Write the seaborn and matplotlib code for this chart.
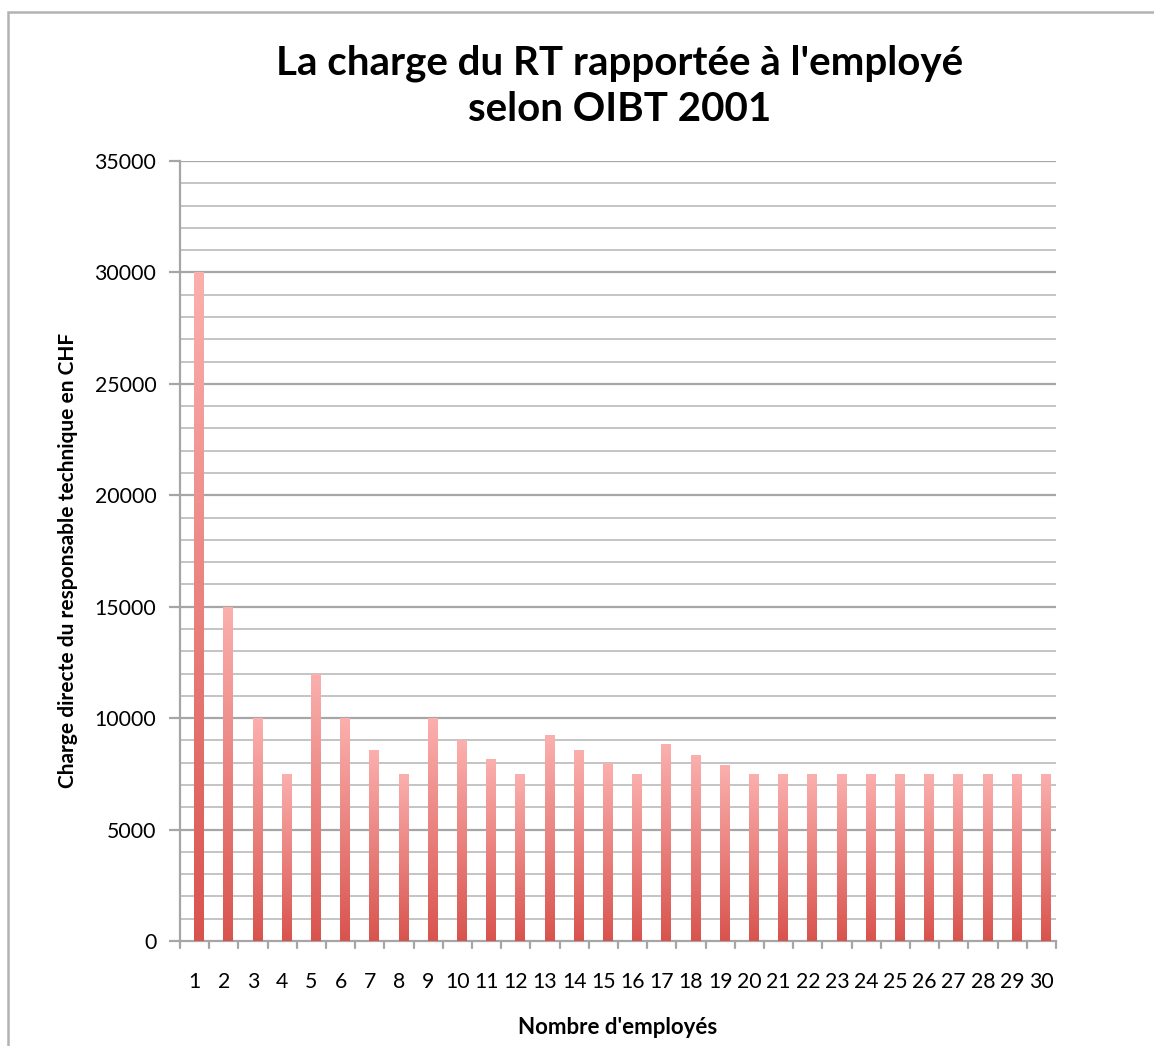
import numpy as np
import pandas as pd
import matplotlib
matplotlib.use("Agg")
import matplotlib.pyplot as plt
from matplotlib.colors import LinearSegmentedColormap
from matplotlib.patches import Rectangle
import seaborn as sns

# Charge per employee, by number of employees (CHF)
employees = list(range(1, 31))
charges = [30000, 15000, 10000, 7500, 12000, 10000, 8571, 7500, 10000, 9000,
           8182, 7500, 9231, 8571, 8000, 7500, 8824, 8333, 7895, 7500,
           7500, 7500, 7500, 7500, 7500, 7500, 7500, 7500, 7500, 7500]
x_labels = [str(e) for e in employees]
y_ticks = [0, 5000, 10000, 15000, 20000, 25000, 30000, 35000]

title = "La charge du RT rapportée à l'employé\nselon OIBT 2001"
x_title = "Nombre d'employés"
y_title = "Charge directe du responsable technique en CHF"

sns.set_theme(style="white")
plt.rcParams['font.family'] = ['Lato', 'DejaVu Sans']
plt.rcParams['text.color'] = 'black'
plt.rcParams['axes.labelcolor'] = 'black'
plt.rcParams['xtick.color'] = 'black'
plt.rcParams['ytick.color'] = 'black'

df = pd.DataFrame({"employes": x_labels, "charge": charges})

fig = plt.figure(figsize=(11.54, 10.46), dpi=100)
ax = fig.add_axes([180 / 1154, 1 - 941 / 1046, 876 / 1154, 780 / 1046])

sns.barplot(data=df, x="employes", y="charge", order=x_labels, color="#e06660",
            width=0.31, ax=ax, zorder=3)

# vertical gradient on each bar: light pink at the top, red at the base
grad_cmap = LinearSegmentedColormap.from_list("bar", ["#d9534e", "#fbb0ae"])
grad = np.linspace(0, 1, 256).reshape(-1, 1)
for p in ax.patches:
    p.set_x(p.get_x() + 0.14)
    p.set_facecolor("none")
    p.set_edgecolor("none")
    x0, y0, w, h = p.get_x(), p.get_y(), p.get_width(), p.get_height()
    im = ax.imshow(grad, cmap=grad_cmap, origin="lower", aspect="auto",
                   extent=(x0, x0 + w, y0, y0 + h), zorder=3, interpolation="bilinear")
    im.set_clip_path(p)

ax.set_xlim(-0.5, 29.5)
ax.set_ylim(0, 35000)
ax.set_yticks(y_ticks)
ax.set_yticks(np.arange(0, 35001, 1000), minor=True)
ax.set_yticklabels([str(v) for v in y_ticks], fontsize=15.3)
ax.set_xticks(range(30))
ax.set_xticklabels(x_labels, fontsize=15.3)

# horizontal grid: every 1000, darker at each 5000
ax.grid(False)
for v in np.arange(1000, 35001, 1000):
    major = v % 5000 == 0
    ax.axhline(v, color="#a6a6a6" if major else "#c4c4c4", lw=1.6 if major else 1.4, zorder=1)

# category boundary ticks on the x axis
ax.tick_params(axis="x", which="both", length=0, pad=22)
for b in np.arange(-0.5, 30.0, 1.0):
    ax.plot([b, b], [0, -0.009], transform=ax.get_xaxis_transform(), color="#a6a6a6",
            lw=1.6, clip_on=False, zorder=2)
ax.tick_params(axis="y", which="major", length=8, width=1.6, color="#a6a6a6", pad=9, left=True)
ax.tick_params(axis="y", which="minor", length=0)

for s in ["top", "right"]:
    ax.spines[s].set_visible(False)
for s in ["left", "bottom"]:
    ax.spines[s].set_color("#a6a6a6")
    ax.spines[s].set_linewidth(1.6)

ax.set_xlabel(x_title, fontsize=16, fontweight="bold", labelpad=18)
ax.set_ylabel(y_title, fontsize=15, fontweight="bold")
ax.yaxis.set_label_coords(-0.116, 0.488)

fig.text(0.537, 1 - 86 / 1046, title, ha="center", va="center", fontsize=29,
         fontweight="bold", linespacing=1.3)

# frame around the chart area
fig.patches.append(Rectangle((8 / 1154, -0.05), 1.1, 1 - 12 / 1046 + 0.05,
                             transform=fig.transFigure, fill=False,
                             edgecolor="#b3b3b3", lw=1.8))

fig.savefig("out.png", dpi=100)
